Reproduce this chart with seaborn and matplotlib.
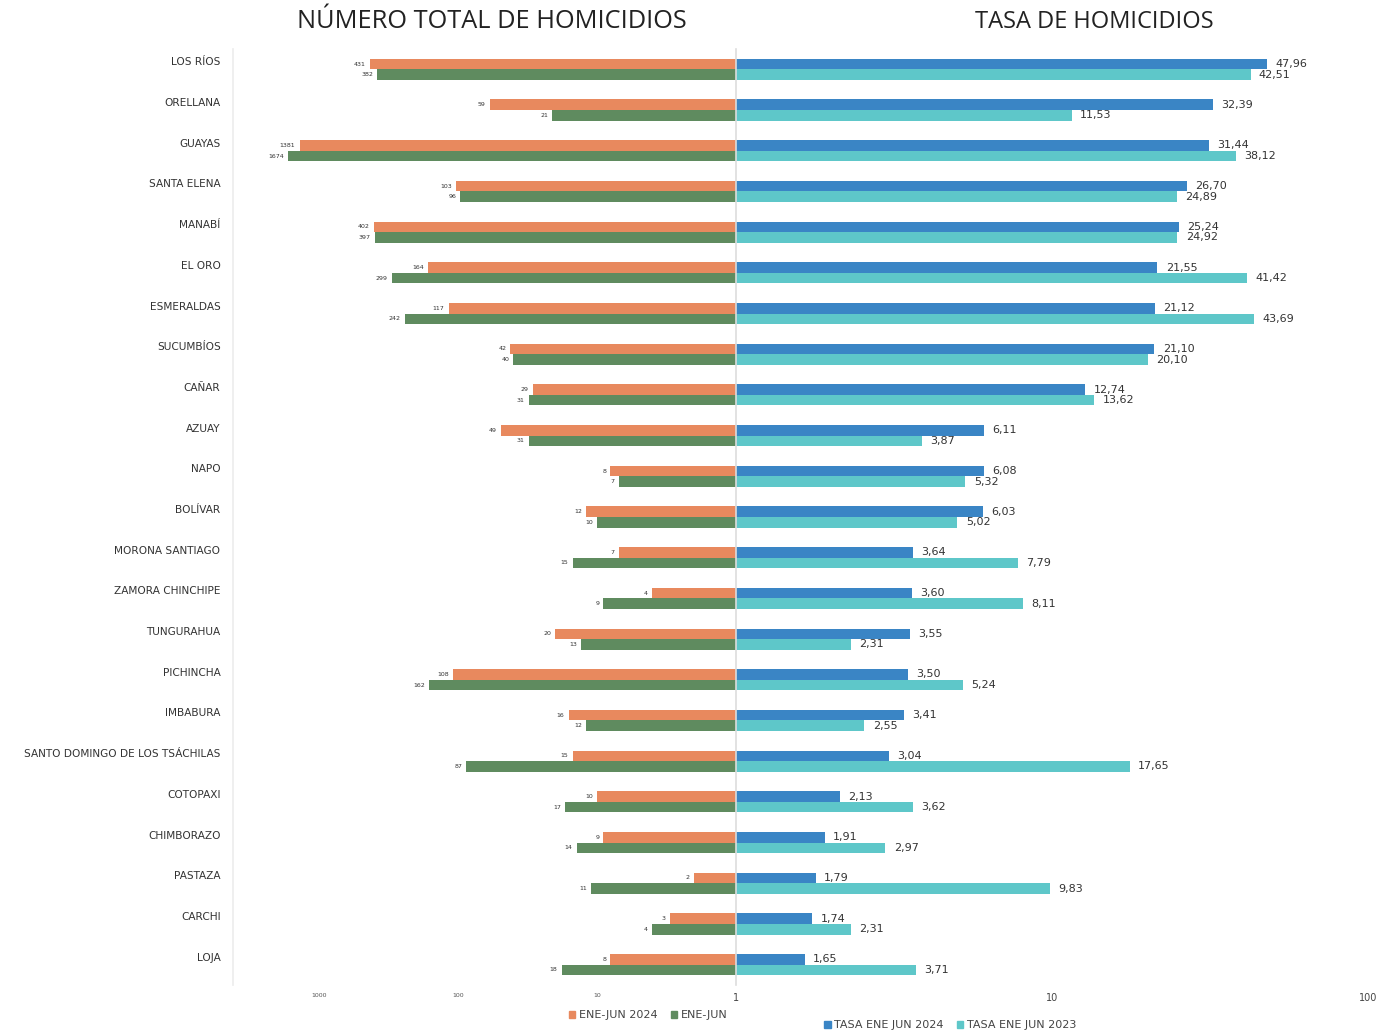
import matplotlib
matplotlib.use("Agg")
import matplotlib.pyplot as plt
import matplotlib.transforms as mtransforms
import seaborn as sns
import pandas as pd
from matplotlib.patches import Patch

provinces = ["LOS RÍOS", "ORELLANA", "GUAYAS", "SANTA ELENA", "MANABÍ", "EL ORO",
             "ESMERALDAS", "SUCUMBÍOS", "CAÑAR", "AZUAY", "NAPO", "BOLÍVAR",
             "MORONA SANTIAGO", "ZAMORA CHINCHIPE", "TUNGURAHUA", "PICHINCHA",
             "IMBABURA", "SANTO DOMINGO DE LOS TSÁCHILAS", "COTOPAXI", "CHIMBORAZO",
             "PASTAZA", "CARCHI", "LOJA"]
hom_2024 = [431, 59, 1381, 103, 402, 164, 117, 42, 29, 49, 8, 12, 7, 4, 20, 108,
            16, 15, 10, 9, 2, 3, 8]
hom_2023 = [382, 21, 1674, 96, 397, 299, 242, 40, 31, 31, 7, 10, 15, 9, 13, 162,
            12, 87, 17, 14, 11, 4, 18]
tasa_2024 = [47.96, 32.39, 31.44, 26.70, 25.24, 21.55, 21.12, 21.10, 12.74, 6.11,
             6.08, 6.03, 3.64, 3.60, 3.55, 3.50, 3.41, 3.04, 2.13, 1.91, 1.79, 1.74, 1.65]
tasa_2023 = [42.51, 11.53, 38.12, 24.89, 24.92, 41.42, 43.69, 20.10, 13.62, 3.87,
             5.32, 5.02, 7.79, 8.11, 2.31, 5.24, 2.55, 17.65, 3.62, 2.97, 9.83, 2.31, 3.71]
left_series = ["ENE-JUN 2024", "ENE-JUN"]
right_series = ["TASA ENE JUN 2024", "TASA ENE JUN 2023"]
left_ticks = [1000, 100, 10]
right_ticks = [1, 10, 100]

c_orange = "#E8895E"
c_green = "#5F8B5F"
c_blue = "#3A85C5"
c_teal = "#5EC7C9"

df_left = pd.DataFrame({
    "prov": provinces * 2,
    "val": hom_2024 + hom_2023,
    "serie": [left_series[0]] * len(provinces) + [left_series[1]] * len(provinces),
})
df_right = pd.DataFrame({
    "prov": provinces * 2,
    "val": tasa_2024 + tasa_2023,
    "serie": [right_series[0]] * len(provinces) + [right_series[1]] * len(provinces),
})

sns.set_theme(style="white")
plt.rcParams["font.family"] = ["DejaVu Sans"]

W, H = 1392, 1036
top_px, bot_px = 49, 985
fig = plt.figure(figsize=(13.92, 10.36), dpi=100)
axL = fig.add_axes([233 / W, 1 - bot_px / H, (736 - 233) / W, (bot_px - top_px) / H])
axR = fig.add_axes([736 / W, 1 - bot_px / H, (1368 - 736) / W, (bot_px - top_px) / H])
axL.set_xscale("log", nonpositive="clip")
axR.set_xscale("log", nonpositive="clip")

sns.barplot(data=df_left, y="prov", x="val", hue="serie", orient="h", ax=axL,
            palette=[c_orange, c_green], width=0.52, legend=False,
            saturation=1, errorbar=None, linewidth=0, edgecolor="none")
sns.barplot(data=df_right, y="prov", x="val", hue="serie", orient="h", ax=axR,
            palette=[c_blue, c_teal], width=0.52, legend=False,
            saturation=1, errorbar=None, linewidth=0, edgecolor="none")
axL.set_xscale("log", nonpositive="clip")
axR.set_xscale("log", nonpositive="clip")

axL.set_xlim(4156, 1)
axR.set_xlim(1, 100)
for ax in (axL, axR):
    ax.set_ylim(len(provinces) - 0.5, -0.5)
    ax.set_xlabel("")
    ax.set_ylabel("")
    ax.tick_params(length=0)
    ax.minorticks_off()
    for s in ax.spines.values():
        s.set_visible(False)
    ax.spines["left"].set_visible(True)
axL.spines["left"].set_color("#ececec")
axL.spines["left"].set_linewidth(1.2)
axR.spines["left"].set_color("#dddddd")
axR.spines["left"].set_linewidth(1.2)

axL.set_xticks(left_ticks)
axL.set_xticklabels([str(t) for t in left_ticks], fontsize=4.5, color="#555555")
axL.tick_params(axis="y", labelsize=7.6, labelcolor="#333333", pad=9)
axL.tick_params(axis="x", pad=6)
shift = mtransforms.ScaledTranslation(0, 0.08, fig.dpi_scale_trans)
for lab in axL.get_yticklabels():
    lab.set_transform(lab.get_transform() + shift)
axR.set_xticks(right_ticks)
axR.set_xticklabels([str(t) for t in right_ticks], fontsize=7, color="#444444")
axR.tick_params(axis="x", pad=6)
axR.set_yticks([])
axR.minorticks_off()

# value labels
for cont, vals in zip(axL.containers, [hom_2024, hom_2023]):
    axL.bar_label(cont, labels=[str(v) for v in vals], padding=3, fontsize=4.5,
                  color="#333333")
for cont, vals in zip(axR.containers, [tasa_2024, tasa_2023]):
    axR.bar_label(cont, labels=[f"{v:.2f}".replace(".", ",") for v in vals],
                  padding=6, fontsize=8, color="#333333")

fig.text(492 / W, 1 - 22 / H, "NÚMERO TOTAL DE HOMICIDIOS", ha="center",
         va="center", fontsize=18.3, color="#222222", family=["Open Sans", "DejaVu Sans"])
fig.text(1094 / W, 1 - 22 / H, "TASA DE HOMICIDIOS", ha="center",
         va="center", fontsize=17, color="#222222", family=["Open Sans", "DejaVu Sans"])

legL = fig.legend(handles=[Patch(color=c_orange, label=left_series[0]),
                           Patch(color=c_green, label=left_series[1])],
                  loc="center", bbox_to_anchor=(648 / W, 1 - 1015 / H), ncol=2,
                  frameon=False, fontsize=8, handlelength=0.6, handleheight=0.6,
                  columnspacing=1.2, handletextpad=0.3)
for t in legL.get_texts():
    t.set_color("#444444")
legR = fig.legend(handles=[Patch(color=c_blue, label=right_series[0]),
                           Patch(color=c_teal, label=right_series[1])],
                  loc="center", bbox_to_anchor=(950 / W, 1 - 1025 / H), ncol=2,
                  frameon=False, fontsize=8, handlelength=0.6, handleheight=0.6,
                  columnspacing=1.2, handletextpad=0.3)
for t in legR.get_texts():
    t.set_color("#444444")

fig.savefig("out.png", dpi=100, facecolor="white")
